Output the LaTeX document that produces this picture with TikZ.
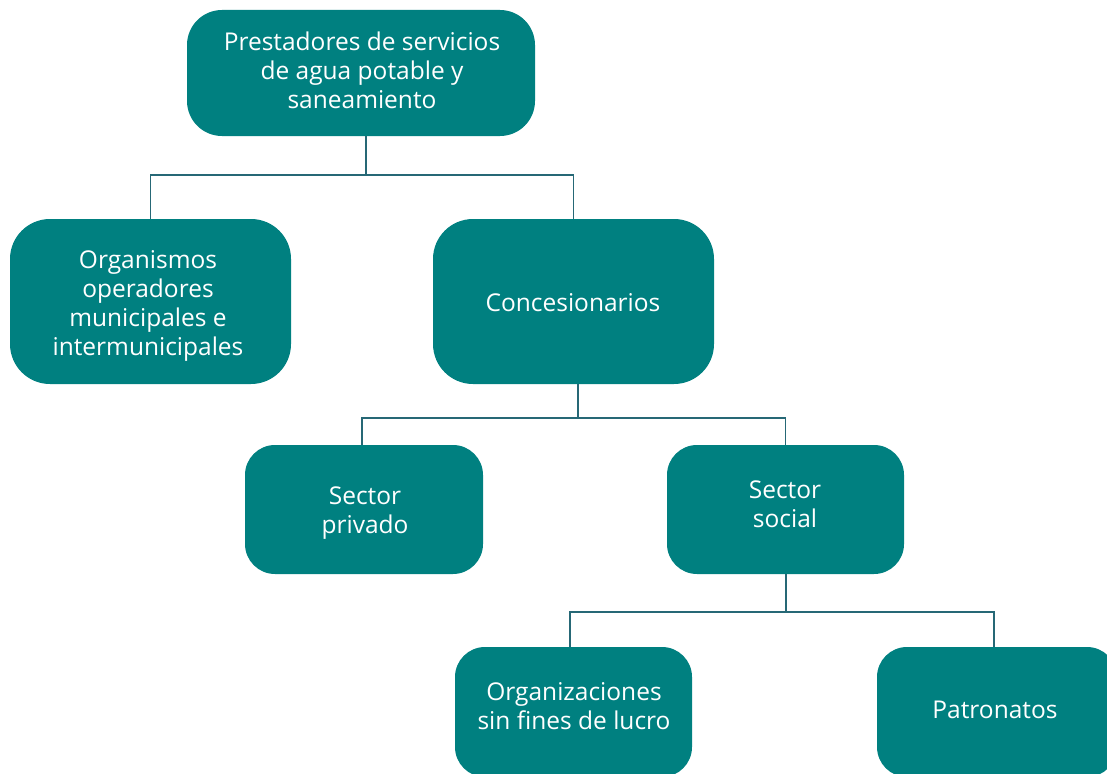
\documentclass[tikz,border=0pt]{standalone}
\usepackage{fontspec}
\setmainfont{Open Sans}
\definecolor{boxteal}{RGB}{0,128,128}
\definecolor{linkteal}{RGB}{38,104,118}
\tikzset{
  box/.style={fill=boxteal, draw=none, rounded corners=32pt, inner sep=0pt},
  bigbox/.style={box, rounded corners=40pt},
  smallbox/.style={box, rounded corners=30pt},
  txt/.style={text=white, align=center, inner sep=0pt, font=\fontsize{24.5}{29}\selectfont},
  link/.style={draw=linkteal, line width=1.3pt}
}
\begin{document}
\begin{tikzpicture}[x=1pt, y=-1pt]
\useasboundingbox (0,0) rectangle (1107,773);
\clip (0,0) rectangle (1107,773);
% boxes
\node[box, rounded corners=35pt, minimum width=348pt, minimum height=126pt] (top) at (361,73) {};
\node[bigbox, minimum width=281pt, minimum height=165pt] (org) at (150.5,301.5) {};
\node[bigbox, minimum width=281pt, minimum height=165pt] (con) at (573.5,301.5) {};
\node[smallbox, minimum width=238pt, minimum height=129pt] (pri) at (364,509.5) {};
\node[smallbox, minimum width=237pt, minimum height=129pt] (soc) at (785.5,509.5) {};
\node[smallbox, minimum width=237pt, minimum height=130pt] (osf) at (573.5,712) {};
\node[smallbox, minimum width=240pt, minimum height=130pt] (pat) at (997,712) {};
% texts
\node[txt] (ttop) at (362,70) {Prestadores de servicios\\de agua potable y\\saneamiento};
\node[txt] (torg) at (148,306) {Organismos\\operadores\\municipales e\\intermunicipales};
\node[txt] (tcon) at (573,303) {Concesionarios};
\node[txt] (tpri) at (365,513) {Sector\\privado};
\node[txt] (tsoc) at (785,504) {Sector\\social};
\node[txt] (tosf) at (574,706) {Organizaciones\\sin fines de lucro};
\node[txt] (tpat) at (995,710) {Patronatos};
% connectors
\coordinate (j1) at (366,175);
\coordinate (j2) at (578,418);
\coordinate (j3) at (786,612);
\draw[link] (top.south -| j1) -- (j1);
\draw[link] (j1) -| (org.north);
\draw[link] (j1) -| (con.north);
\draw[link] (con.south -| j2) -- (j2);
\draw[link] (j2) -| ([xshift=-2pt]pri.north);
\draw[link] (j2) -| (soc.north);
\draw[link] (soc.south -| j3) -- (j3);
\draw[link] (j3) -| ([xshift=-3.5pt]osf.north);
\draw[link] (j3) -| ([xshift=-3pt]pat.north);
\end{tikzpicture}
\end{document}
